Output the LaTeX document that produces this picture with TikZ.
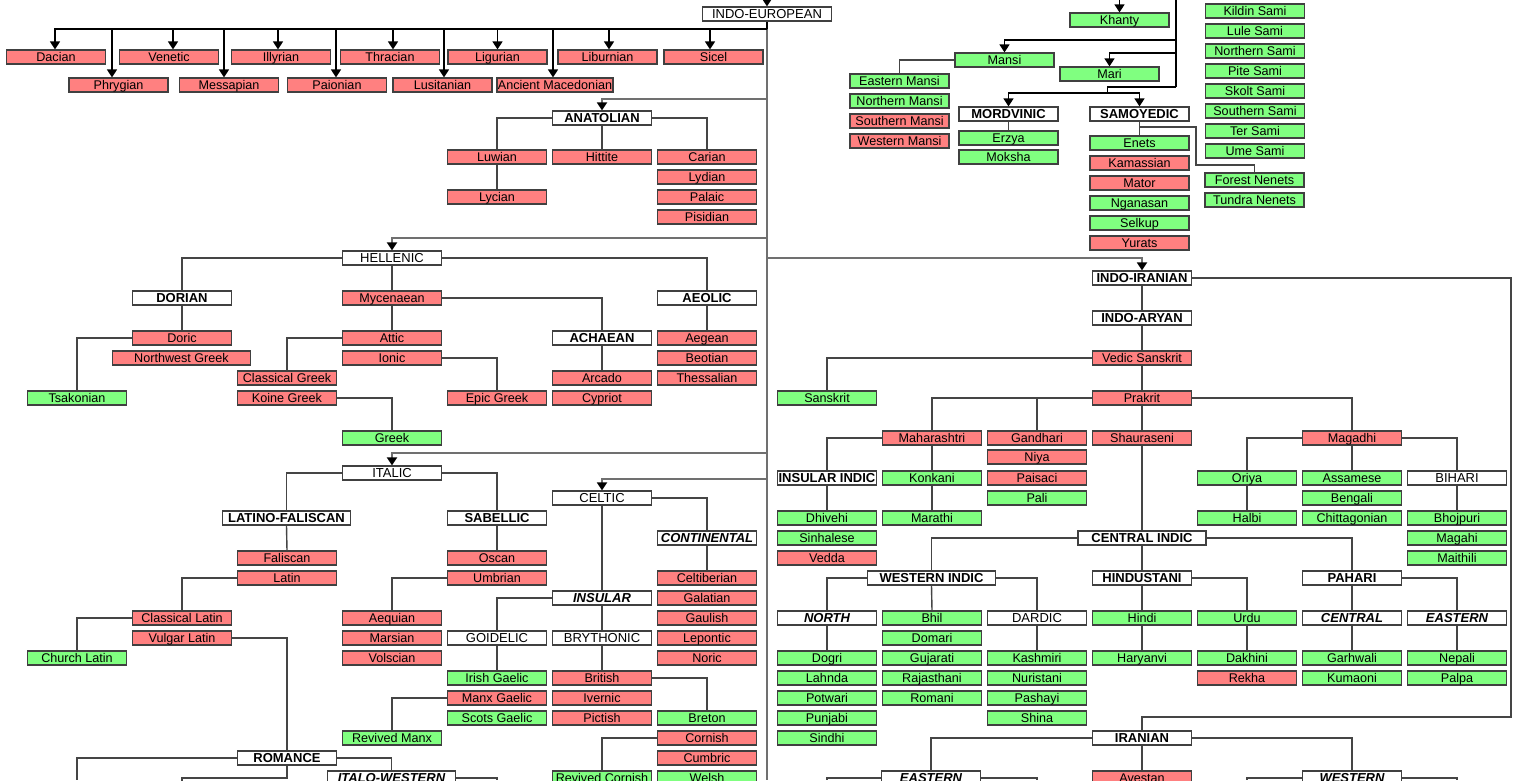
\documentclass[tikz,border=0pt]{standalone}
\usepackage{fontspec}
\setmainfont{Liberation Sans}
\usepackage{xcolor}
\usetikzlibrary{arrows.meta}
\definecolor{DeadRed}{HTML}{FF8080}
\definecolor{LiveGreen}{HTML}{80FF80}
\definecolor{BoxEdge}{HTML}{404040}
\definecolor{TrunkGrey}{HTML}{707070}
\definecolor{LinkGrey}{HTML}{454545}

\begin{document}
\begin{tikzpicture}[x=1pt, y=-1pt, every node/.style={font=\fontsize{12.6}{14}\selectfont}]

    \tikzstyle{lang}=[
      draw=BoxEdge,
      line width=1.2pt,
      minimum width=99pt,
      minimum height=14pt,
      inner sep=0pt,
      text height=11.5pt,
      text depth=2.5pt
    ]
    \tikzstyle{dead}=[lang, fill=DeadRed]
    \tikzstyle{live}=[lang, fill=LiveGreen]
    \tikzstyle{clade}=[lang, fill=white, font=\fontsize{13}{14}\selectfont\bfseries]
    \tikzstyle{cladeplain}=[lang, fill=white, font=\fontsize{13}{14}\selectfont]
    \tikzstyle{cladeit}=[lang, fill=white, font=\fontsize{13}{14}\selectfont\bfseries\itshape]
    \tikzstyle{toparrow}=[-{Triangle[width=10pt,length=8pt]}, line width=1.5pt]
    \tikzstyle{uralarrow}=[-{Triangle[width=10pt,length=8pt]}, line width=1.2pt]
    \tikzstyle{trunk}=[draw=TrunkGrey, line width=1.8pt]
    \tikzstyle{trunkarrow}=[trunk, -{Triangle[width=10pt,length=8pt,color=black]}]
    \tikzstyle{link}=[draw=LinkGrey, line width=1.4pt]

    \useasboundingbox (0,0) rectangle (1540,780);

    % --- Top: Indo-European and unclassified branches ---
    \node[cladeplain, minimum width=129pt] (ie) at (767,14) {INDO-EUROPEAN};
    \node[dead] (dacian) at (56,57) {Dacian};
    \node[dead] (venetic) at (169,57) {Venetic};
    \node[dead] (illyrian) at (281,57) {Illyrian};
    \node[dead] (thracian) at (390,57) {Thracian};
    \node[dead] (ligurian) at (497.5,57) {Ligurian};
    \node[dead] (liburnian) at (607.5,57) {Liburnian};
    \node[dead] (sicel) at (713.5,57) {Sicel};
    \node[dead] (phrygian) at (118.5,85) {Phrygian};
    \node[dead] (messapian) at (229,85) {Messapian};
    \node[dead] (paionian) at (337,85) {Paionian};
    \node[dead] (lusitanian) at (442.5,85) {Lusitanian};
    \node[dead, minimum width=116pt] (ancmac) at (555,85) {Ancient Macedonian};

    % --- Anatolian ---
    \node[clade] (anatolian) at (602,118) {ANATOLIAN};
    \node[dead] (luwian) at (497,157) {Luwian};
    \node[dead] (hittite) at (602,157) {Hittite};
    \node[dead] (carian) at (707,157) {Carian};
    \node[dead] (lydian) at (707,177) {Lydian};
    \node[dead] (lycian) at (497,197) {Lycian};
    \node[dead] (palaic) at (707,197) {Palaic};
    \node[dead] (pisidian) at (707,217) {Pisidian};

    % --- Hellenic ---
    \node[cladeplain] (hellenic) at (392,258) {HELLENIC};
    \node[clade] (dorian) at (182,298) {DORIAN};
    \node[dead] (mycenaean) at (392,298) {Mycenaean};
    \node[clade] (aeolic) at (707,298) {AEOLIC};
    \node[dead] (doric) at (182,338) {Doric};
    \node[dead] (attic) at (392,338) {Attic};
    \node[clade] (achaean) at (602,338) {ACHAEAN};
    \node[dead] (aegean) at (707,338) {Aegean};
    \node[dead, minimum width=138pt] (nwgreek) at (181.5,358) {Northwest Greek};
    \node[dead] (ionic) at (392,358) {Ionic};
    \node[dead] (beotian) at (707,358) {Beotian};
    \node[dead] (classgreek) at (287,378) {Classical Greek};
    \node[dead] (arcado) at (602,378) {Arcado};
    \node[dead] (thessalian) at (707,378) {Thessalian};
    \node[live] (tsakonian) at (77,398) {Tsakonian};
    \node[dead] (koine) at (287,398) {Koine Greek};
    \node[dead] (epic) at (497,398) {Epic Greek};
    \node[dead] (cypriot) at (602,398) {Cypriot};
    \node[live] (greek) at (392,438) {Greek};

    % --- Italic and Celtic ---
    \node[cladeplain] (italic) at (392,473) {ITALIC};
    \node[cladeplain] (celtic) at (602,498) {CELTIC};
    \node[clade, minimum width=128pt] (latfal) at (286.5,518) {LATINO-FALISCAN};
    \node[clade] (sabellic) at (497,518) {SABELLIC};
    \node[cladeit] (continental) at (707,538) {CONTINENTAL};
    \node[dead] (faliscan) at (287,558) {Faliscan};
    \node[dead] (oscan) at (497,558) {Oscan};
    \node[dead] (latin) at (287,578) {Latin};
    \node[dead] (umbrian) at (497,578) {Umbrian};
    \node[dead] (celtiberian) at (707,578) {Celtiberian};
    \node[cladeit] (insular) at (602,598) {INSULAR};
    \node[dead] (galatian) at (707,598) {Galatian};
    \node[dead] (classlatin) at (182,618) {Classical Latin};
    \node[dead] (aequian) at (392,618) {Aequian};
    \node[dead] (gaulish) at (707,618) {Gaulish};
    \node[dead] (vulglatin) at (182,638) {Vulgar Latin};
    \node[dead] (marsian) at (392,638) {Marsian};
    \node[cladeplain] (goidelic) at (497,638) {GOIDELIC};
    \node[cladeplain] (brythonic) at (602,638) {BRYTHONIC};
    \node[dead] (lepontic) at (707,638) {Lepontic};
    \node[live] (churchlatin) at (77,658) {Church Latin};
    \node[dead] (volscian) at (392,658) {Volscian};
    \node[dead] (noric) at (707,658) {Noric};
    \node[live] (irish) at (497,678) {Irish Gaelic};
    \node[dead] (british) at (602,678) {British};
    \node[dead] (manx) at (497,698) {Manx Gaelic};
    \node[dead] (ivernic) at (602,698) {Ivernic};
    \node[live] (scots) at (497,718) {Scots Gaelic};
    \node[dead] (pictish) at (602,718) {Pictish};
    \node[live] (breton) at (707,718) {Breton};
    \node[live] (revmanx) at (392,738) {Revived Manx};
    \node[dead] (cornish) at (707,738) {Cornish};
    \node[clade] (romance) at (287,758) {ROMANCE};
    \node[dead] (cumbric) at (707,758) {Cumbric};
    \node[cladeit, minimum width=128pt] (italowest) at (391.5,778) {ITALO-WESTERN};
    \node[live] (revcornish) at (602,778) {Revived Cornish};
    \node[live] (welsh) at (707,778) {Welsh};

    % --- Uralic (top right) ---
    \node[live] (khanty) at (1119.5,20) {Khanty};
    \node[live] (mansi) at (1004.5,60) {Mansi};
    \node[live] (mari) at (1109.5,74) {Mari};
    \node[live] (eastmansi) at (899.5,81) {Eastern Mansi};
    \node[live] (northmansi) at (899.5,101) {Northern Mansi};
    \node[dead] (southmansi) at (899.5,121) {Southern Mansi};
    \node[dead] (westmansi) at (899.5,141) {Western Mansi};
    \node[clade] (mordvinic) at (1008.5,114) {MORDVINIC};
    \node[clade] (samoyedic) at (1139.5,114) {SAMOYEDIC};
    \node[live] (erzya) at (1008.5,138) {Erzya};
    \node[live] (moksha) at (1008.5,157) {Moksha};
    \node[live] (enets) at (1139.5,143) {Enets};
    \node[dead] (kamassian) at (1139.5,163) {Kamassian};
    \node[dead] (mator) at (1139.5,183) {Mator};
    \node[live] (nganasan) at (1139.5,203) {Nganasan};
    \node[live] (selkup) at (1139.5,223) {Selkup};
    \node[dead] (yurats) at (1139.5,243) {Yurats};
    \node[live] (kildin) at (1255,11) {Kildin Sami};
    \node[live] (lule) at (1255,31) {Lule Sami};
    \node[live] (northsami) at (1255,51) {Northern Sami};
    \node[live] (pite) at (1255,71) {Pite Sami};
    \node[live] (skolt) at (1255,91) {Skolt Sami};
    \node[live] (southsami) at (1255,111) {Southern Sami};
    \node[live] (ter) at (1255,131) {Ter Sami};
    \node[live] (ume) at (1255,151) {Ume Sami};
    \node[live] (forestnenets) at (1254.5,180) {Forest Nenets};
    \node[live] (tundranenets) at (1254.5,200) {Tundra Nenets};

    % --- Indo-Iranian ---
    \node[clade] (indoiran) at (1142,278) {INDO-IRANIAN};
    \node[clade] (indoaryan) at (1142,318) {INDO-ARYAN};
    \node[dead] (vedic) at (1142,358) {Vedic Sanskrit};
    \node[live] (sanskrit) at (827,398) {Sanskrit};
    \node[dead] (prakrit) at (1142,398) {Prakrit};
    \node[dead] (maharashtri) at (932,438) {Maharashtri};
    \node[dead] (gandhari) at (1037,438) {Gandhari};
    \node[dead] (shauraseni) at (1142,438) {Shauraseni};
    \node[dead] (magadhi) at (1352,438) {Magadhi};
    \node[dead] (niya) at (1037,457) {Niya};
    \node[clade] (insularindic) at (827,478) {INSULAR INDIC};
    \node[live] (konkani) at (932,478) {Konkani};
    \node[dead] (paisaci) at (1037,478) {Paisaci};
    \node[live] (oriya) at (1247,478) {Oriya};
    \node[live] (assamese) at (1352,478) {Assamese};
    \node[cladeplain] (bihari) at (1457,478) {BIHARI};
    \node[live] (pali) at (1037,498) {Pali};
    \node[live] (bengali) at (1352,498) {Bengali};
    \node[live] (dhivehi) at (827,518) {Dhivehi};
    \node[live] (marathi) at (932,518) {Marathi};
    \node[live] (halbi) at (1247,518) {Halbi};
    \node[live] (chittagonian) at (1352,518) {Chittagonian};
    \node[live] (bhojpuri) at (1457,518) {Bhojpuri};
    \node[live] (sinhalese) at (827,538) {Sinhalese};
    \node[clade, minimum width=128pt] (centralindic) at (1142,538) {CENTRAL INDIC};
    \node[live] (magahi) at (1457,538) {Magahi};
    \node[dead] (vedda) at (827,558) {Vedda};
    \node[live] (maithili) at (1457,558) {Maithili};
    \node[clade, minimum width=128pt] (westindic) at (931.5,578) {WESTERN INDIC};
    \node[clade] (hindustani) at (1142,578) {HINDUSTANI};
    \node[clade] (pahari) at (1352,578) {PAHARI};
    \node[cladeit] (northindic) at (827,618) {NORTH};
    \node[live] (bhil) at (932,618) {Bhil};
    \node[cladeplain] (dardic) at (1037,618) {DARDIC};
    \node[live] (hindi) at (1142,618) {Hindi};
    \node[live] (urdu) at (1247,618) {Urdu};
    \node[cladeit] (centralpahari) at (1352,618) {CENTRAL};
    \node[cladeit] (eastpahari) at (1457,618) {EASTERN};
    \node[live] (domari) at (932,638) {Domari};
    \node[live] (dogri) at (827,658) {Dogri};
    \node[live] (gujarati) at (932,658) {Gujarati};
    \node[live] (kashmiri) at (1037,658) {Kashmiri};
    \node[live] (haryanvi) at (1142,658) {Haryanvi};
    \node[live] (dakhini) at (1247,658) {Dakhini};
    \node[live] (garhwali) at (1352,658) {Garhwali};
    \node[live] (nepali) at (1457,658) {Nepali};
    \node[live] (lahnda) at (827,678) {Lahnda};
    \node[live] (rajasthani) at (932,678) {Rajasthani};
    \node[live] (nuristani) at (1037,678) {Nuristani};
    \node[dead] (rekha) at (1247,678) {Rekha};
    \node[live] (kumaoni) at (1352,678) {Kumaoni};
    \node[live] (palpa) at (1457,678) {Palpa};
    \node[live] (potwari) at (827,698) {Potwari};
    \node[live] (romani) at (932,698) {Romani};
    \node[live] (pashayi) at (1037,698) {Pashayi};
    \node[live] (punjabi) at (827,718) {Punjabi};
    \node[live] (shina) at (1037,718) {Shina};
    \node[live] (sindhi) at (827,738) {Sindhi};
    \node[clade] (iranian) at (1142,738) {IRANIAN};
    \node[cladeit] (eastiran) at (931,778) {EASTERN};
    \node[dead] (avestan) at (1142,778) {Avestan};
    \node[cladeit] (westiran) at (1352,778) {WESTERN};

    % --- Junctions and loose ends ---
    \coordinate (ietop) at (767,0);
    \coordinate (iebus) at (767,29);
    \coordinate (trunkend) at (767,780);
    \coordinate (anajoin) at (767,99);
    \coordinate (heljoin) at (767,238);
    \coordinate (iijoin) at (767,258);
    \coordinate (itajoin) at (767,453);
    \coordinate (celjoin) at (767,479);
    \coordinate (iranbend) at (1511,717);
    \coordinate (romleft) at (77,780);
    \coordinate (romdown) at (182,778);
    \coordinate (itwright) at (497,780);
    \coordinate (eastA) at (827,780);
    \coordinate (eastB) at (1037,780);
    \coordinate (westA) at (1247,780);
    \coordinate (westB) at (1457,780);
    \coordinate (uraltop) at (1176,0);
    \coordinate (uralbase) at (1176,87);
    \coordinate (mansijoin) at (1176,40);
    \coordinate (marijoin) at (1176,53);
    \coordinate (khantytop) at (1119.5,0);
    \coordinate (samobus) at (1107.5,93);
    \coordinate (nenetsA) at (1196,127);
    \coordinate (nenetsB) at (1196,165);

    % --- Top arrows ---
    \draw[toparrow] (ietop) -- (ie.north);
    \draw[trunk] (ie.south) -- (trunkend);
    \draw[line width=1.5pt] (ie.south) -- (iebus);
    \draw[toparrow] (iebus) -| ([xshift=-1pt]dacian.north);
    \draw[toparrow] (iebus) -| ([xshift=-6.5pt]phrygian.north);
    \draw[toparrow] (iebus) -| ([xshift=4pt]venetic.north);
    \draw[toparrow] (iebus) -| ([xshift=-5pt]messapian.north);
    \draw[toparrow] (iebus) -| ([xshift=-3pt]illyrian.north);
    \draw[toparrow] (iebus) -| ([xshift=-1pt]paionian.north);
    \draw[toparrow] (iebus) -| ([xshift=3pt]thracian.north);
    \draw[toparrow] (iebus) -| ([xshift=1.5pt]lusitanian.north);
    \draw[toparrow] (iebus) -| (ligurian.north);
    \draw[toparrow] (iebus) -| ([xshift=-2pt]ancmac.north);
    \draw[toparrow] (iebus) -| ([xshift=1.5pt]liburnian.north);
    \draw[toparrow] (iebus) -| ([xshift=-3.5pt]sicel.north);

    % --- Branch arrows off the trunk ---
    \draw[trunkarrow] (anajoin) -| (anatolian.north);
    \draw[trunkarrow] (heljoin) -| (hellenic.north);
    \draw[trunkarrow] (iijoin) -| (indoiran.north);
    \draw[trunkarrow] (itajoin) -| (italic.north);
    \draw[trunkarrow] (celjoin) -| (celtic.north);

    % --- Anatolian links ---
    \draw[link] (anatolian.west) -| (luwian.north);
    \draw[link] (anatolian.south) -- (hittite.north);
    \draw[link] (anatolian.east) -| (carian.north);
    \draw[link] (luwian.south) -- (lycian.north);

    % --- Hellenic links ---
    \draw[link] (hellenic.west) -| (dorian.north);
    \draw[link] (hellenic.south) -- (mycenaean.north);
    \draw[link] (hellenic.east) -| (aeolic.north);
    \draw[link] (dorian.south) -- (doric.north);
    \draw[link] (doric.west) -| (tsakonian.north);
    \draw[link] (mycenaean.south) -- (attic.north);
    \draw[link] (mycenaean.east) -| (achaean.north);
    \draw[link] (achaean.south) -- (arcado.north);
    \draw[link] (aeolic.south) -- (aegean.north);
    \draw[link] (attic.west) -| (classgreek.north);
    \draw[link] (ionic.east) -| (epic.north);
    \draw[link] (koine.east) -| (greek.north);

    % --- Italic links ---
    \draw[link] (italic.west) -| (latfal.north);
    \draw[link] (italic.east) -| (sabellic.north);
    \draw[link] (latfal.south) -- (faliscan.north);
    \draw[link] (latin.west) -| (classlatin.north);
    \draw[link] (classlatin.west) -| (churchlatin.north);
    \draw[link] (vulglatin.east) -| (romance.north);
    \draw[link] (sabellic.south) -- (oscan.north);
    \draw[link] (umbrian.west) -| (aequian.north);
    \draw[link] (romance.west) -| (romleft);
    \draw[link] (romance.south) |- (romdown) -- ++(0,4);
    \draw[link] (romance.east) -| (italowest.north);
    \draw[link] (italowest.east) -| (itwright);

    % --- Celtic links ---
    \draw[link] (celtic.south) -- (insular.north);
    \draw[link] (celtic.east) -| (continental.north);
    \draw[link] (continental.south) -- (celtiberian.north);
    \draw[link] (insular.west) -| (goidelic.north);
    \draw[link] (insular.south) -- (brythonic.north);
    \draw[link] (goidelic.south) -- (irish.north);
    \draw[link] (manx.west) -| (revmanx.north);
    \draw[link] (brythonic.south) -- (british.north);
    \draw[link] (british.east) -| (breton.north);
    \draw[link] (cornish.west) -| (revcornish.north);

    % --- Uralic links ---
    \draw[line width=1.2pt] (uraltop) -- (uralbase);
    \draw[uralarrow] (khantytop) -- (khanty.north);
    \draw[uralarrow] (mansijoin) -| (mansi.north);
    \draw[uralarrow] (marijoin) -| (mari.north);
    \draw[line width=1.2pt] (uralbase) -| (samobus);
    \draw[uralarrow] (samobus) -| (mordvinic.north);
    \draw[uralarrow] (samobus) -| (samoyedic.north);
    \draw[link] (mansi.west) -| (eastmansi.north);
    \draw[link] (mordvinic.south) -- (erzya.north);
    \draw[link] (samoyedic.south) -- (enets.north);
    \draw[link] (samoyedic.south) |- (nenetsA) -- (nenetsB) -| (forestnenets.north);

    % --- Indo-Aryan links ---
    \draw[link] (indoiran.south) -- (indoaryan.north);
    \draw[link] (indoaryan.south) -- (vedic.north);
    \draw[link] (vedic.west) -| (sanskrit.north);
    \draw[link] (vedic.south) -- (prakrit.north);
    \draw[link] (prakrit.west) -| (maharashtri.north);
    \draw[link] (prakrit.west) -| (gandhari.north);
    \draw[link] (prakrit.south) -- (shauraseni.north);
    \draw[link] (prakrit.east) -| (magadhi.north);
    \draw[link] (maharashtri.west) -| (insularindic.north);
    \draw[link] (maharashtri.south) -- (konkani.north);
    \draw[link] (konkani.south) -- (marathi.north);
    \draw[link] (insularindic.south) -- (dhivehi.north);
    \draw[link] (magadhi.west) -| (oriya.north);
    \draw[link] (magadhi.south) -- (assamese.north);
    \draw[link] (magadhi.east) -| (bihari.north);
    \draw[link] (oriya.south) -- (halbi.north);
    \draw[link] (bihari.south) -- (bhojpuri.north);
    \draw[link] (shauraseni.south) -- (centralindic.north);
    \draw[link] (centralindic.west) -| (westindic.north);
    \draw[link] (centralindic.south) -- (hindustani.north);
    \draw[link] (centralindic.east) -| (pahari.north);
    \draw[link] (westindic.west) -| (northindic.north);
    \draw[link] (westindic.south) -- (bhil.north);
    \draw[link] (westindic.east) -| (dardic.north);
    \draw[link] (northindic.south) -- (dogri.north);
    \draw[link] (dardic.south) -- (kashmiri.north);
    \draw[link] (hindustani.south) -- (hindi.north);
    \draw[link] (hindustani.east) -| (urdu.north);
    \draw[link] (hindi.south) -- (haryanvi.north);
    \draw[link] (urdu.south) -- (dakhini.north);
    \draw[link] (pahari.south) -- (centralpahari.north);
    \draw[link] (pahari.east) -| (eastpahari.north);
    \draw[link] (centralpahari.south) -- (garhwali.north);
    \draw[link] (eastpahari.south) -- (nepali.north);

    % --- Iranian links ---
    \draw[link] (indoiran.east) -| (iranbend) -| (iranian.north);
    \draw[link] (iranian.south) -- (avestan.north);
    \draw[link] (iranian.west) -| (eastiran.north);
    \draw[link] (iranian.east) -| (westiran.north);
    \draw[link] (eastiran.west) -| (eastA);
    \draw[link] (eastiran.east) -| (eastB);
    \draw[link] (westiran.west) -| (westA);
    \draw[link] (westiran.east) -| (westB);

  \end{tikzpicture}
\end{document}
